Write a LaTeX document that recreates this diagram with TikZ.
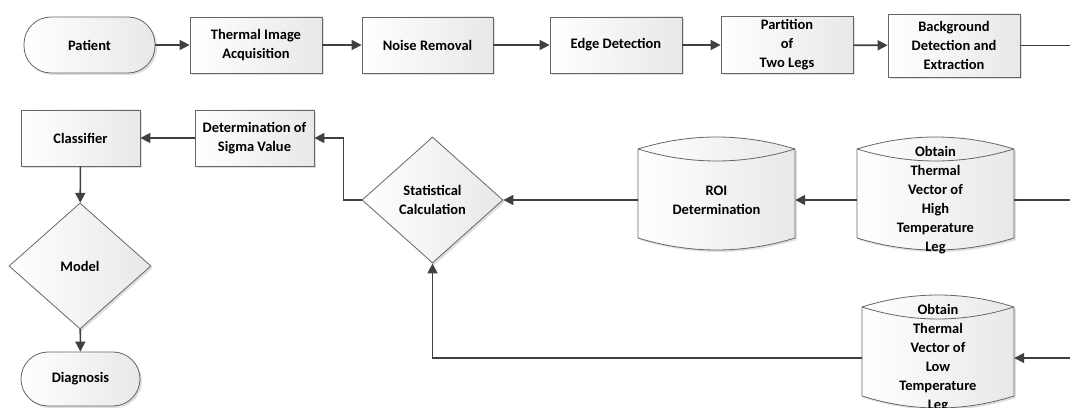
\documentclass[tikz,border=0pt]{standalone}
\usepackage{fontspec}
\setmainfont{Carlito}
\usetikzlibrary{arrows.meta, positioning, shapes.geometric, shadows, backgrounds, calc}

\begin{document}
\begin{tikzpicture}[x=1pt, y=1pt,
  font=\fontsize{14.5}{19}\selectfont\bfseries,
  box/.style={draw=black!60, line width=0.8pt, left color=white, right color=black!9,
    drop shadow={shadow xshift=2pt, shadow yshift=-2pt, opacity=0.25}, align=center, inner sep=1pt},
  process/.style={box, rectangle, minimum width=132pt, minimum height=56pt},
  term/.style={box, rectangle, rounded corners=27pt, minimum height=56pt},
  decision/.style={box, diamond, minimum width=141pt, minimum height=126pt, inner sep=0pt},
  store/.style={rectangle, minimum height=102pt, align=center, inner sep=0pt},
  flow/.style={draw=black!75, line width=1.6pt, -{Triangle[length=10pt, width=10pt]}},
  link/.style={draw=black!75, line width=1.6pt}]

\useasboundingbox (0,0) rectangle (1070,407);

% top row
\node[term, minimum width=131pt] (patient) at (89.5,362) {Patient};
\node[process] (acq) at (256,362) {Thermal Image\\Acquisition};
\node[process, minimum width=131pt] (noise) at (427.5,362) {Noise Removal};
\node[process] (edge) at (616,362) {Edge Detection};
\node[process, minimum height=57pt] (part) at (787,362) {Partition\\of\\Two Legs};
\node[process, minimum height=63pt] (bg) at (954,361.5) {Background\\Detection and\\Extraction};

% lower part
\node[process, minimum width=119pt] (classifier) at (80.5,269) {Classifier};
\node[process, minimum width=119pt] (sigma) at (254.5,269) {Determination of\\Sigma Value};
\node[decision] (stat) at (432.5,207) {Statistical\\Calculation};
\node[decision, minimum width=142pt] (model) at (80,141) {Model};
\node[term, minimum width=119pt, minimum height=54pt] (diag) at (80.5,28) {Diagnosis};

\node[store, minimum width=157pt] (roi) at (716.5,207) {ROI\\Determination};
\node[store, minimum width=157pt] (high) at (935.5,207) {Obtain\\Thermal\\Vector of\\High\\Temperature\\Leg};
\node[store, minimum width=152pt] (low) at (938,49) {Obtain\\Thermal\\Vector of\\Low\\Temperature\\Leg};

\begin{scope}[on background layer]
\foreach \n/\w in {roi/78.5, high/78.5, low/76}{
  \draw[draw=black!60, line width=0.8pt, left color=white, right color=black!9,
      drop shadow={shadow xshift=2pt, shadow yshift=-2pt, opacity=0.25}]
    ($(\n.center)+(-\w,51)$) .. controls ($(\n.center)+(-\w/3,67)$) and ($(\n.center)+(\w/3,67)$) .. ($(\n.center)+(\w,51)$)
    -- ($(\n.center)+(\w,-38)$) .. controls ($(\n.center)+(\w/3,-54)$) and ($(\n.center)+(-\w/3,-54)$) .. ($(\n.center)+(-\w,-38)$)
    -- cycle;
  \draw[draw=black!60, line width=0.8pt]
    ($(\n.center)+(-\w,51)$) .. controls ($(\n.center)+(-\w/3,35)$) and ($(\n.center)+(\w/3,35)$) .. ($(\n.center)+(\w,51)$);
}
\end{scope}

% connectors
\draw[flow] (patient) -- (acq);
\draw[flow] (acq) -- (noise);
\draw[flow] (noise) -- (edge);
\draw[flow] (edge) -- (part);
\draw[flow] (part) -- (bg);
\coordinate (topout) at (1070,361.5);
\draw[link] (bg) -- (topout);

\coordinate (highin) at (1070,207);
\draw[link] (highin) -- (high);
\draw[flow] (high) -- (roi);
\draw[flow] (roi) -- (stat);
\draw[flow] (stat.west) -- ++(-18,0) |- (sigma.east);
\draw[flow] (sigma) -- (classifier);
\draw[flow] (classifier) -- (model);
\draw[flow] (model) -- (diag);

\coordinate (lowin) at (1070,49);
\draw[flow] (lowin) -- (low);
\draw[flow] (low.west) -| (stat.south);

\end{tikzpicture}
\end{document}
